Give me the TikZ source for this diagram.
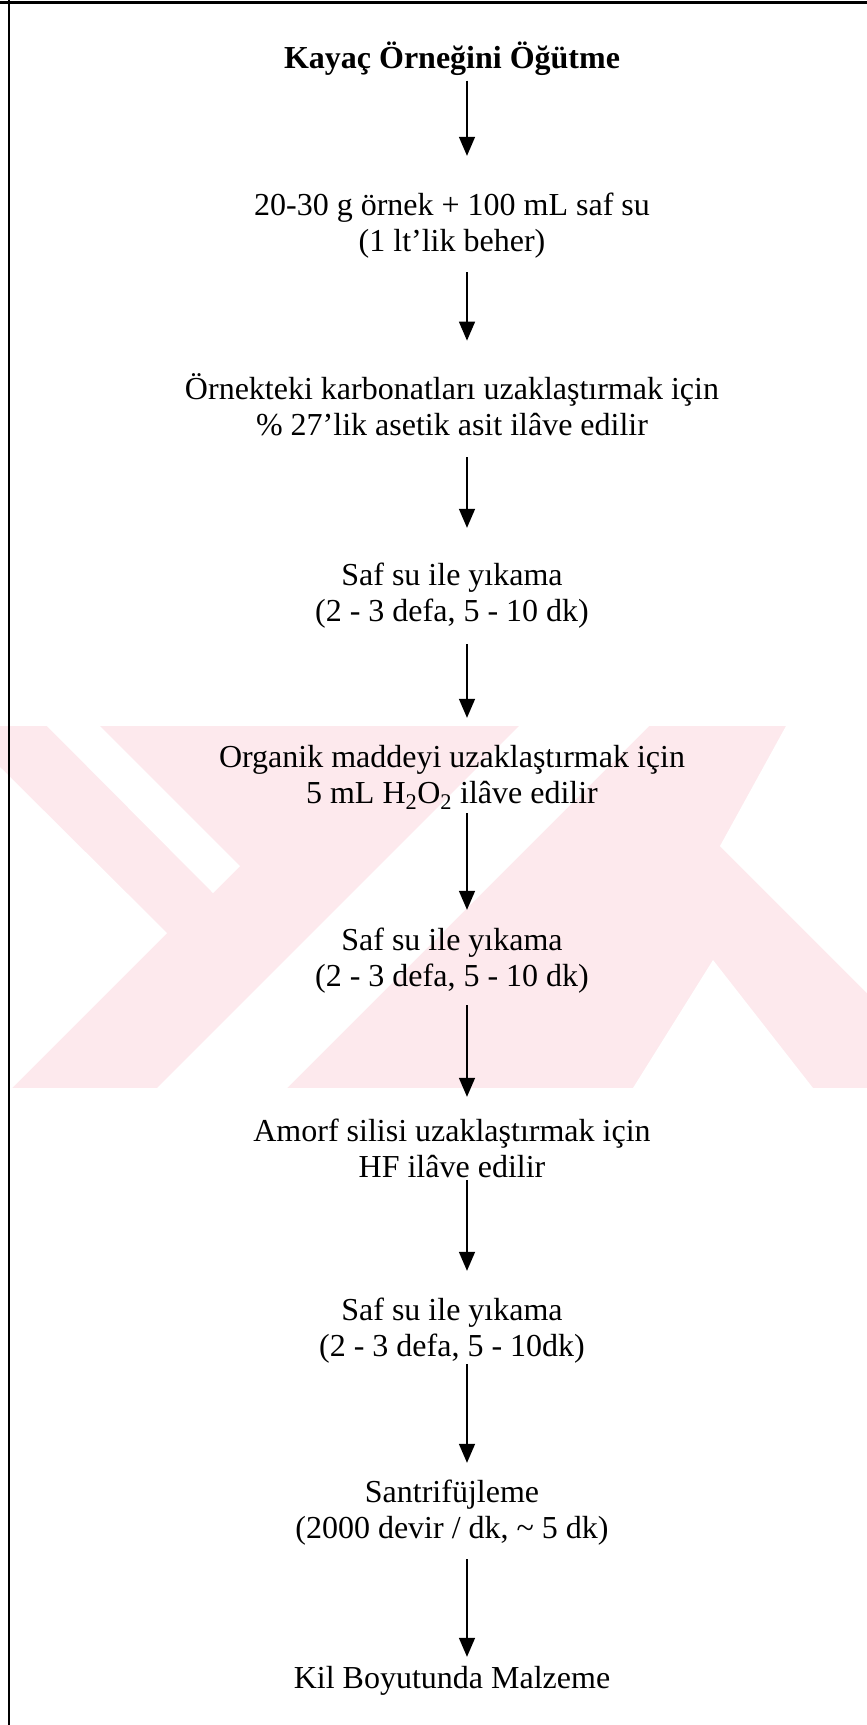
\documentclass[tikz,border=0pt]{standalone}
\usepackage{fontspec}
\setmainfont{Liberation Serif}
\usetikzlibrary{arrows.meta}
\definecolor{wm}{RGB}{253,233,237}
\begin{document}
\begin{tikzpicture}[x=1pt,y=-1pt,
  stepnode/.style={align=center, inner sep=0pt, font=\fontsize{32}{36.5}\selectfont},
  arr/.style={line width=1.5pt, -{Triangle[length=19pt,width=16pt]}},
  frameline/.style={line width=2.5pt}]
\useasboundingbox (0,0) rectangle (867,1725);
% watermark
\begin{scope}
\clip (0,726) rectangle (867,1088);
\fill[wm] (0,726) rectangle (867,1088);
\fill[white] (47,726) -- (100,726) -- (240,866) -- (213,893) -- cycle;
\fill[white] (0,767) -- (167,933) -- (0,1100) -- cycle;
\fill[white] (157,1088) -- (287,1088) -- (649,726) -- (519,726) -- cycle;
\fill[white] (786,726) -- (867,726) -- (867,993) -- (720,846) -- cycle;
\fill[white] (633,1088) -- (713,960) -- (813,1088) -- cycle;
\end{scope}
% frame
\draw[frameline] (0,2.5) -- (867,2.5);
\draw[line width=2pt] (8.5,0) -- (8.5,1725);
\coordinate (axis) at (467,0);
% steps
\node[stepnode] (n1) at (452,61) {\strut\textbf{Kayaç Örneğini Öğütme}};
\node[stepnode] (n2) at (452,226) {\strut 20-30 g örnek + 100 mL saf su\\\strut (1 lt’lik beher)};
\node[stepnode] (n3) at (452,410) {\strut Örnekteki karbonatları uzaklaştırmak için\\\strut \% 27’lik asetik asit ilâve edilir};
\node[stepnode] (n4) at (452,596) {\strut Saf su ile yıkama\\\strut (2 - 3 defa, 5 - 10 dk)};
\node[stepnode] (n5) at (452,778) {\strut Organik maddeyi uzaklaştırmak için\\\strut 5 mL H\textsubscript{2}O\textsubscript{2} ilâve edilir};
\node[stepnode] (n6) at (452,961) {\strut Saf su ile yıkama\\\strut (2 - 3 defa, 5 - 10 dk)};
\node[stepnode] (n7) at (452,1152) {\strut Amorf silisi uzaklaştırmak için\\\strut HF ilâve edilir};
\node[stepnode] (n8) at (452,1331) {\strut Saf su ile yıkama\\\strut (2 - 3 defa, 5 - 10dk)};
\node[stepnode] (n9) at (452,1513) {\strut Santrifüjleme\\\strut (2000 devir / dk, \textasciitilde{} 5 dk)};
\node[stepnode] (n10) at (452,1681) {\strut Kil Boyutunda Malzeme};
% arrows
\draw[arr, shorten <=0.75pt, shorten >=33.5pt] (n1.south -| axis) -- (n2.north -| axis);
\draw[arr, shorten <=9.5pt, shorten >=32.5pt] (n2.south -| axis) -- (n3.north -| axis);
\draw[arr, shorten <=10.5pt, shorten >=31.5pt] (n3.south -| axis) -- (n4.north -| axis);
\draw[arr, shorten <=11.5pt, shorten >=23.5pt] (n4.south -| axis) -- (n5.north -| axis);
\draw[arr, shorten <=-1.5pt, shorten >=14.5pt] (n5.south -| axis) -- (n6.north -| axis);
\draw[arr, shorten <=7.5pt, shorten >=18.5pt] (n6.south -| axis) -- (n7.north -| axis);
\draw[arr, shorten <=-8.5pt, shorten >=23.5pt] (n7.south -| axis) -- (n8.north -| axis);
\draw[arr, shorten <=-3.5pt, shorten >=13.5pt] (n8.south -| axis) -- (n9.north -| axis);
\draw[arr, shorten <=9.5pt, shorten >=5.75pt] (n9.south -| axis) -- (n10.north -| axis);
\end{tikzpicture}
\end{document}
